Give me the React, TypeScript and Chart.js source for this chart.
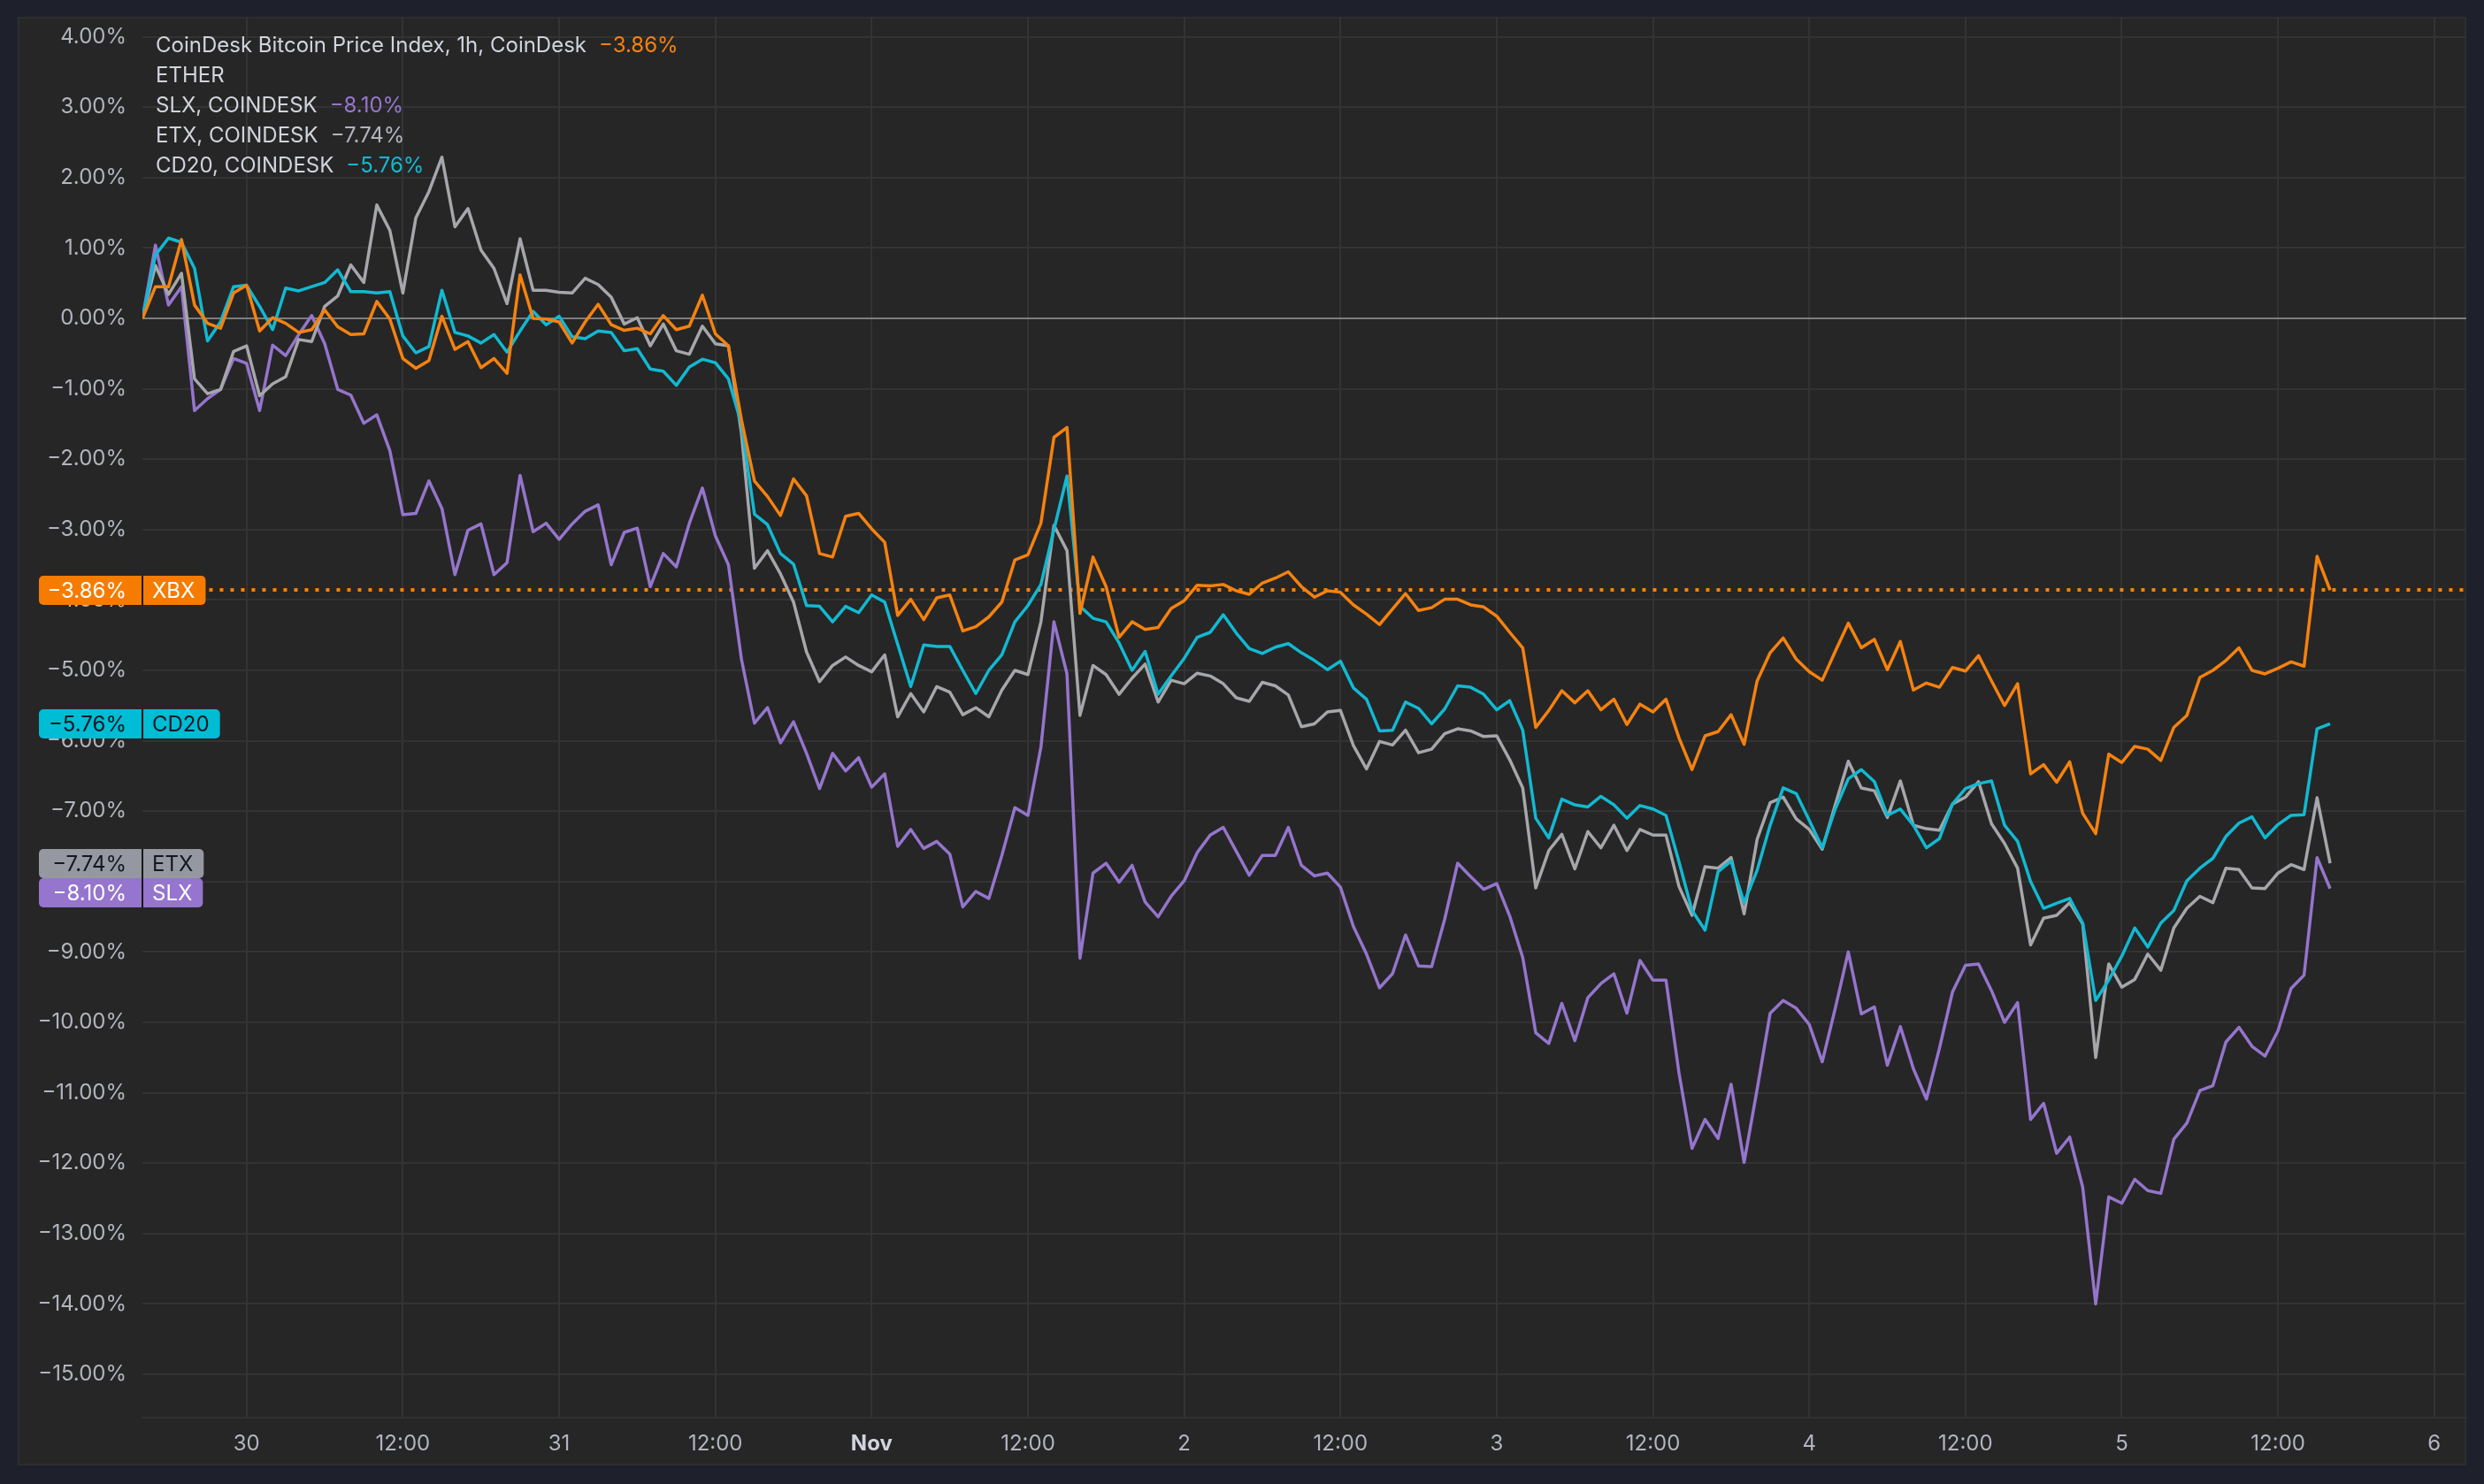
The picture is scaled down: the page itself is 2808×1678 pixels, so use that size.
import React, { useEffect, useRef } from 'react';
import { Chart, registerables } from 'chart.js';

Chart.register(...registerables);

// hourly points, first one at Oct 29 16:00 (hour -8 relative to Oct 30 00:00)
const START_HOUR = -8;

const xbx = [
  0, 0.45, 0.45, 1.12, 0.19, -0.07, -0.14, 0.36,
  0.47, -0.18, 0.01, -0.07, -0.2, -0.16, 0.12, -0.12, -0.23, -0.22,
  0.24, -0.01, -0.57, -0.71, -0.6, 0.03, -0.44, -0.33, -0.7, -0.57,
  -0.78, 0.62, 0.0, -0.01, -0.05, -0.35, -0.05, 0.2, -0.09, -0.17,
  -0.14, -0.22, 0.04, -0.16, -0.11, 0.33, -0.22, -0.39, -1.44, -2.31,
  -2.53, -2.8, -2.28, -2.52, -3.34, -3.39, -2.81, -2.77, -2.99, -3.18,
  -4.22, -3.99, -4.28, -3.97, -3.93, -4.44, -4.38, -4.24, -4.03, -3.43,
  -3.36, -2.91, -1.69, -1.55, -4.19, -3.39, -3.81, -4.53, -4.31, -4.42,
  -4.39, -4.12, -4.01, -3.79, -3.8, -3.78, -3.87, -3.92, -3.76, -3.69,
  -3.6, -3.81, -3.96, -3.87, -3.89, -4.07, -4.2, -4.35, -4.13, -3.91,
  -4.15, -4.11, -3.99, -3.99, -4.07, -4.1, -4.23, -4.46, -4.68, -5.81,
  -5.57, -5.29, -5.46, -5.29, -5.56, -5.41, -5.77, -5.48, -5.59, -5.41,
  -5.96, -6.41, -5.93, -5.87, -5.63, -6.05, -5.15, -4.75, -4.54, -4.84,
  -5.02, -5.14, -4.73, -4.33, -4.68, -4.56, -4.99, -4.59, -5.28, -5.18,
  -5.24, -4.96, -5.01, -4.79, -5.15, -5.5, -5.19, -6.47, -6.34, -6.59,
  -6.3, -7.03, -7.32, -6.19, -6.31, -6.08, -6.12, -6.28, -5.81, -5.64,
  -5.1, -5.0, -4.86, -4.68, -5.0, -5.05, -4.97, -4.88, -4.94, -3.38, -3.86,
];

const cd20 = [
  0, 0.9, 1.14, 1.08, 0.71, -0.32, -0.05, 0.45,
  0.47, 0.17, -0.16, 0.43, 0.39, 0.45, 0.51, 0.69, 0.38, 0.38,
  0.36, 0.38, -0.25, -0.49, -0.4, 0.4, -0.2, -0.25, -0.35, -0.23,
  -0.48, -0.18, 0.1, -0.09, 0.03, -0.26, -0.29, -0.18, -0.2, -0.46,
  -0.43, -0.72, -0.75, -0.95, -0.69, -0.58, -0.63, -0.86, -1.5, -2.78,
  -2.93, -3.34, -3.49, -4.08, -4.09, -4.31, -4.09, -4.18, -3.93, -4.03,
  -4.63, -5.23, -4.64, -4.66, -4.66, -5.0, -5.33, -5.0, -4.78, -4.31,
  -4.08, -3.78, -3.0, -2.24, -4.09, -4.26, -4.31, -4.61, -5.0, -4.73,
  -5.34, -5.08, -4.83, -4.53, -4.46, -4.21, -4.47, -4.69, -4.76, -4.67,
  -4.62, -4.75, -4.86, -4.99, -4.87, -5.25, -5.41, -5.86, -5.85, -5.45,
  -5.54, -5.76, -5.55, -5.22, -5.24, -5.34, -5.56, -5.43, -5.85, -7.1,
  -7.38, -6.83, -6.91, -6.94, -6.79, -6.91, -7.1, -6.92, -6.97, -7.06,
  -7.72, -8.41, -8.69, -7.86, -7.71, -8.3, -7.84, -7.2, -6.67, -6.75,
  -7.13, -7.52, -6.97, -6.54, -6.41, -6.58, -7.06, -6.97, -7.2, -7.52,
  -7.39, -6.9, -6.68, -6.61, -6.57, -7.2, -7.43, -8.0, -8.38, -8.31,
  -8.24, -8.59, -9.69, -9.4, -9.06, -8.66, -8.93, -8.59, -8.41, -7.99,
  -7.81, -7.67, -7.36, -7.17, -7.08, -7.38, -7.19, -7.06, -7.05, -5.83, -5.76,
];

const etx = [
  0, 0.75, 0.34, 0.64, -0.86, -1.07, -1.01, -0.47,
  -0.39, -1.1, -0.93, -0.83, -0.3, -0.33, 0.17, 0.32, 0.76, 0.51,
  1.61, 1.25, 0.36, 1.43, 1.8, 2.29, 1.3, 1.56, 0.97, 0.71,
  0.21, 1.13, 0.4, 0.4, 0.37, 0.36, 0.57, 0.48, 0.3, -0.08,
  0.01, -0.39, -0.08, -0.46, -0.51, -0.11, -0.36, -0.39, -1.63, -3.55,
  -3.3, -3.63, -4.03, -4.74, -5.16, -4.93, -4.81, -4.93, -5.02, -4.78,
  -5.66, -5.33, -5.59, -5.23, -5.31, -5.63, -5.53, -5.66, -5.28, -5.0,
  -5.06, -4.31, -2.94, -3.3, -5.64, -4.93, -5.06, -5.34, -5.11, -4.91,
  -5.45, -5.14, -5.19, -5.04, -5.08, -5.19, -5.39, -5.44, -5.17, -5.22,
  -5.35, -5.8, -5.76, -5.59, -5.57, -6.07, -6.4, -6.01, -6.06, -5.85,
  -6.17, -6.12, -5.9, -5.83, -5.86, -5.94, -5.93, -6.27, -6.67, -8.09,
  -7.56, -7.33, -7.82, -7.29, -7.52, -7.2, -7.56, -7.26, -7.34, -7.34,
  -8.07, -8.48, -7.79, -7.81, -7.66, -8.46, -7.4, -6.88, -6.8, -7.11,
  -7.26, -7.54, -6.91, -6.29, -6.67, -6.71, -7.09, -6.57, -7.2, -7.25,
  -7.27, -6.9, -6.8, -6.58, -7.18, -7.46, -7.81, -8.9, -8.52, -8.48,
  -8.3, -8.6, -10.5, -9.17, -9.5, -9.39, -9.03, -9.26, -8.66, -8.38,
  -8.21, -8.3, -7.81, -7.83, -8.09, -8.1, -7.88, -7.76, -7.83, -6.81, -7.74,
];

const slx = [
  0, 1.04, 0.19, 0.45, -1.31, -1.14, -1.01, -0.57,
  -0.64, -1.31, -0.38, -0.53, -0.23, 0.04, -0.36, -1.01, -1.09, -1.49,
  -1.37, -1.88, -2.79, -2.77, -2.31, -2.7, -3.64, -3.01, -2.92, -3.64,
  -3.47, -2.23, -3.03, -2.91, -3.14, -2.92, -2.74, -2.65, -3.5, -3.04,
  -2.98, -3.81, -3.34, -3.53, -2.91, -2.41, -3.09, -3.5, -4.84, -5.75,
  -5.53, -6.03, -5.73, -6.18, -6.68, -6.18, -6.43, -6.24, -6.66, -6.47,
  -7.5, -7.26, -7.53, -7.43, -7.61, -8.36, -8.14, -8.24, -7.63, -6.95,
  -7.06, -6.09, -4.31, -5.05, -9.09, -7.88, -7.74, -8.01, -7.77, -8.29,
  -8.5, -8.21, -7.99, -7.59, -7.34, -7.23, -7.57, -7.91, -7.63, -7.63,
  -7.23, -7.77, -7.92, -7.88, -8.08, -8.64, -9.03, -9.51, -9.31, -8.76,
  -9.2, -9.21, -8.54, -7.74, -7.93, -8.11, -8.03, -8.49, -9.08, -10.15,
  -10.3, -9.73, -10.26, -9.65, -9.45, -9.31, -9.87, -9.12, -9.4, -9.4,
  -10.72, -11.79, -11.38, -11.65, -10.88, -11.99, -10.95, -9.87, -9.69, -9.8,
  -10.03, -10.56, -9.8, -9.0, -9.88, -9.78, -10.61, -10.06, -10.66, -11.09,
  -10.37, -9.57, -9.19, -9.17, -9.55, -10.0, -9.72, -11.38, -11.15, -11.86,
  -11.63, -12.34, -14.0, -12.48, -12.57, -12.23, -12.39, -12.43, -11.66, -11.43,
  -10.97, -10.9, -10.28, -10.07, -10.34, -10.48, -10.12, -9.52, -9.33, -7.66, -8.1,
];

const xTickHours = [0, 12, 24, 36, 48, 60, 72, 84, 96, 108, 120, 132, 144, 156, 168];
const xTickLabels = ['30', '12:00', '31', '12:00', 'Nov', '12:00', '2', '12:00', '3', '12:00', '4', '12:00', '5', '12:00', '6'];
const yTickValues = [4, 3, 2, 1, 0, -1, -2, -3, -4, -5, -6, -7, -8, -9, -10, -11, -12, -13, -14, -15];

const seriesNames = ['XBX', 'CD20', 'ETX', 'SLX'];
const seriesTitles = ['CoinDesk Bitcoin Price Index, 1h, CoinDesk', 'CD20, COINDESK', 'ETX, COINDESK', 'SLX, COINDESK'];
const seriesData = [xbx, cd20, etx, slx];
const lineColors = ['#f5820f', '#12b9d2', '#a6a7ab', '#9575cd'];
const badgeColors = ['#f57c00', '#00bcd4', '#9598a1', '#9575cd'];
const badgeTextColors = ['#ffffff', '#131722', '#131722', '#ffffff'];
const legendOrder = [0, -1, 3, 2, 1]; // -1 = ETHER row without value
const legendValueColors = ['#f5820f', '', '#9575cd', '#b2b5be', '#12b9d2'];

const FONT = 'Inter, "Noto Sans", "DejaVu Sans", sans-serif';
const PAD = { left: 20, top: 19, right: 20, bottom: 21 };
const Y_AXIS_W = 141;
const X_AXIS_H = 54;
const X_MIN = -8;
const X_MAX = 170.46;
const Y_MIN = -15.616;
const Y_MAX = 4.284;

const fmtPct = (v: number) => (v < 0 ? '\u2212' : '') + Math.abs(v).toFixed(2) + '%';

function badgeLayout(chart: any) {
  const ctx = chart.ctx;
  const y = chart.scales.y;
  const left = chart.chartArea.left;
  ctx.save();
  ctx.font = `24px ${FONT}`;
  const items = seriesData.map((d, i) => {
    const v = d[d.length - 1];
    const w = ctx.measureText(seriesNames[i]).width;
    return { i, v, cy: y.getPixelForValue(v), nameRight: left + 1 + 10 + w + 12 };
  });
  ctx.restore();
  const sorted = [...items].sort((a, b) => a.cy - b.cy);
  const H = 33;
  for (let k = 1; k < sorted.length; k++) {
    const prev = sorted[k - 1];
    if (sorted[k].cy - prev.cy < H) sorted[k].cy = prev.cy + H;
  }
  return { items, H };
}

const panelPlugin = {
  id: 'panelBg',
  beforeDraw(chart: any) {
    const { ctx, width, height } = chart;
    ctx.save();
    ctx.fillStyle = '#1e212b';
    ctx.fillRect(0, 0, width, height);
    const x0 = PAD.left, y0 = PAD.top, x1 = width - PAD.right, y1 = height - PAD.bottom;
    ctx.fillStyle = '#262626';
    ctx.fillRect(x0, y0, x1 - x0, y1 - y0);
    ctx.strokeStyle = '#2e2e2e';
    ctx.lineWidth = 2;
    ctx.strokeRect(x0 + 1, y0 + 1, x1 - x0 - 2, y1 - y0 - 2);
    ctx.restore();
  },
  beforeDatasetsDraw(chart: any) {
    const { ctx, chartArea } = chart;
    const { items } = badgeLayout(chart);
    const b = items[0];
    const yPix = Math.round(chart.scales.y.getPixelForValue(b.v));
    ctx.save();
    ctx.strokeStyle = lineColors[0];
    ctx.lineWidth = 4;
    ctx.setLineDash([4, 8]);
    ctx.beginPath();
    ctx.moveTo(b.nameRight + 4, yPix);
    ctx.lineTo(chartArea.right, yPix);
    ctx.stroke();
    ctx.restore();
  },
  afterDraw(chart: any) {
    const { ctx, chartArea } = chart;
    const { items, H } = badgeLayout(chart);
    ctx.save();
    // badges
    ctx.font = `24px ${FONT}`;
    ctx.textBaseline = 'middle';
    [...items].reverse().forEach((it) => {
      const top = Math.round(it.cy - H / 2);
      const vl = 44, vr = chartArea.left - 1;
      ctx.fillStyle = badgeColors[it.i];
      ctx.beginPath();
      (ctx as any).roundRect(vl, top, vr - vl, H, [5, 0, 0, 5]);
      ctx.fill();
      ctx.beginPath();
      (ctx as any).roundRect(vr + 2, top, it.nameRight - vr - 2, H, [0, 5, 5, 0]);
      ctx.fill();
      ctx.fillStyle = 'rgba(0,0,0,0.35)';
      ctx.fillRect(vr, top, 2, H);
      ctx.fillStyle = badgeTextColors[it.i];
      ctx.textAlign = 'right';
      ctx.fillText(fmtPct(it.v), 143, top + H / 2 + 1);
      ctx.textAlign = 'left';
      ctx.fillText(seriesNames[it.i], vr + 12, top + H / 2 + 1);
    });
    // legend
    ctx.font = `24px ${FONT}`;
    ctx.textBaseline = 'alphabetic';
    ctx.textAlign = 'left';
    const lx = 176;
    legendOrder.forEach((si, row) => {
      const by = 59 + row * 34;
      const title = si < 0 ? 'ETHER' : seriesTitles[si];
      ctx.fillStyle = '#d1d4dc';
      ctx.fillText(title, lx, by);
      if (si >= 0) {
        const w = ctx.measureText(title).width;
        const d = seriesData[si];
        ctx.fillStyle = legendValueColors[row];
        ctx.fillText(fmtPct(d[d.length - 1]), lx + w + 14, by);
      }
    });
    ctx.restore();
  },
};

export default function App() {
  const ref = useRef<HTMLCanvasElement | null>(null);
  useEffect(() => {
    document.body.style.margin = '0';
    const canvas = ref.current;
    if (!canvas) return;
    const datasets = seriesData.map((d, i) => ({
      label: seriesNames[i],
      data: d.map((v, k) => ({ x: START_HOUR + k, y: v })),
      borderColor: lineColors[i],
      backgroundColor: lineColors[i],
      borderWidth: 3.5,
      pointRadius: 0,
      tension: 0,
      borderJoinStyle: 'round' as const,
      fill: false,
    }));
    const chart = new Chart(canvas, {
      type: 'line',
      data: { datasets },
      plugins: [panelPlugin],
      options: {
        responsive: false,
        animation: false,
        events: [],
        layout: { padding: PAD },
        plugins: { legend: { display: false }, tooltip: { enabled: false } },
        scales: {
          x: {
            type: 'linear',
            min: X_MIN,
            max: X_MAX,
            afterBuildTicks: (s: any) => {
              s.ticks = xTickHours.map((v) => ({ value: v }));
            },
            afterFit: (s: any) => {
              s.height = X_AXIS_H;
              s.paddingLeft = 0;
              s.paddingRight = 0;
            },
            grid: { color: '#333333', lineWidth: 2, drawTicks: false },
            border: { display: true, color: '#313131', width: 2 },
            ticks: {
              padding: 15,
              autoSkip: false,
              maxRotation: 0,
              callback: (v: any) => {
                const idx = xTickHours.indexOf(Number(v));
                return idx >= 0 ? xTickLabels[idx] : '';
              },
              color: (c: any) => (c.tick && c.tick.value === 48 ? '#d1d4dc' : '#b2b5be'),
              font: (c: any) => ({
                family: FONT,
                size: 24,
                weight: c.tick && c.tick.value === 48 ? 'bold' : 'normal',
              }),
            },
          },
          y: {
            type: 'linear',
            min: Y_MIN,
            max: Y_MAX,
            afterBuildTicks: (s: any) => {
              s.ticks = yTickValues.map((v) => ({ value: v }));
            },
            afterFit: (s: any) => {
              s.width = Y_AXIS_W;
              s.paddingTop = 0;
              s.paddingBottom = 0;
            },
            grid: {
              color: (c: any) => (c.tick && c.tick.value === 0 ? '#7d7d7d' : '#333333'),
              lineWidth: 2,
              drawTicks: false,
            },
            border: { display: false },
            ticks: {
              padding: 18,
              color: '#b2b5be',
              font: { family: FONT, size: 24 },
              callback: (v: any) => fmtPct(Number(v)),
            },
          },
        },
      } as any,
    });
    return () => chart.destroy();
  }, []);
  return (
    <div style={{ position: 'fixed', left: 0, top: 0, width: 2808, height: 1678, background: '#1e212b' }}>
      <canvas ref={ref} width={2808} height={1678} style={{ display: 'block', width: 2808, height: 1678 }} />
    </div>
  );
}
